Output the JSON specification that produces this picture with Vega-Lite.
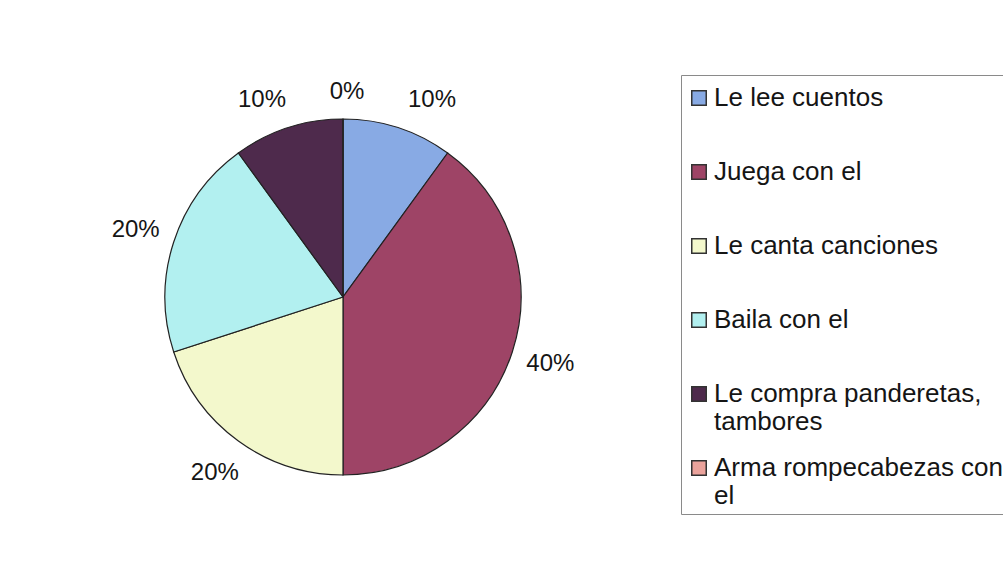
{
  "$schema": "https://vega.github.io/schema/vega-lite/v6.json",
  "width": 686,
  "height": 566,
  "autosize": "none",
  "padding": {"left": 0, "top": 14, "right": 317, "bottom": 0},
  "background": "white",
  "data": {
    "values": [
      {"actividad": "Le lee cuentos", "valor": 0.1, "orden": 1},
      {"actividad": "Juega con el", "valor": 0.4, "orden": 2},
      {"actividad": "Le canta canciones", "valor": 0.2, "orden": 3},
      {"actividad": "Baila con el", "valor": 0.2, "orden": 4},
      {"actividad": "Le compra panderetas, tambores", "valor": 0.1, "orden": 5},
      {"actividad": "Arma rompecabezas con el", "valor": 0.0, "orden": 6}
    ]
  },
  "encoding": {
    "theta": {"field": "valor", "type": "quantitative", "stack": true},
    "order": {"field": "orden", "type": "quantitative"},
    "color": {
      "field": "actividad",
      "type": "nominal",
      "sort": ["Le lee cuentos", "Juega con el", "Le canta canciones", "Baila con el", "Le compra panderetas, tambores", "Arma rompecabezas con el"],
      "scale": {
        "domain": ["Le lee cuentos", "Juega con el", "Le canta canciones", "Baila con el", "Le compra panderetas, tambores", "Arma rompecabezas con el"],
        "range": ["#88AAE4", "#9E4466", "#F3F8CC", "#B2F0F0", "#4E2A4C", "#EBA39C"]
      },
      "legend": {
        "title": null,
        "orient": "none",
        "legendX": 681,
        "legendY": 61,
        "padding": 5,
        "strokeColor": "#8a8a8a",
        "fillColor": "white",
        "symbolType": "square",
        "symbolSize": 210,
        "symbolStrokeColor": "#333333",
        "symbolStrokeWidth": 1.5,
        "symbolOpacity": 1,
        "symbolOffset": 0,
        "labelFontSize": 26,
        "labelFont": "Liberation Sans",
        "labelColor": "#151515",
        "labelLimit": 500,
        "labelOffset": 2,
        "clipHeight": 36,
        "rowPadding": 15,
        "labelExpr": "datum.label == 'Le compra panderetas, tambores' ? ['Le compra panderetas,', 'tambores'] : datum.label == 'Arma rompecabezas con el' ? ['Arma rompecabezas con', 'el'] : [datum.label, ' ']"
      }
    }
  },
  "layer": [
    {
      "mark": {"type": "arc", "outerRadius": 178, "stroke": "#222222", "strokeWidth": 1.2}
    },
    {
      "mark": {"type": "text", "radius": 218, "fontSize": 24, "font": "Liberation Sans"},
      "encoding": {
        "text": {"condition": {"test": "datum.orden >= 2 && datum.orden <= 4", "field": "valor", "type": "quantitative", "format": ".0%"}, "value": ""},
        "color": {"value": "#151515"}
      }
    },
    {
      "mark": {"type": "text", "radius": 207, "dx": 25, "fontSize": 24, "font": "Liberation Sans"},
      "encoding": {
        "text": {"condition": {"test": "datum.orden == 1", "field": "valor", "type": "quantitative", "format": ".0%"}, "value": ""},
        "color": {"value": "#151515"}
      }
    },
    {
      "mark": {"type": "text", "radius": 207, "dx": -17, "fontSize": 24, "font": "Liberation Sans"},
      "encoding": {
        "text": {"condition": {"test": "datum.orden == 5", "field": "valor", "type": "quantitative", "format": ".0%"}, "value": ""},
        "color": {"value": "#151515"}
      }
    },
    {
      "mark": {"type": "text", "radius": 207, "dx": 4, "dy": 2, "fontSize": 24, "font": "Liberation Sans"},
      "encoding": {
        "text": {"condition": {"test": "datum.orden == 6", "field": "valor", "type": "quantitative", "format": ".0%"}, "value": ""},
        "color": {"value": "#151515"}
      }
    }
  ],
  "config": {
    "view": {"stroke": null},
    "font": "Liberation Sans"
  }
}
